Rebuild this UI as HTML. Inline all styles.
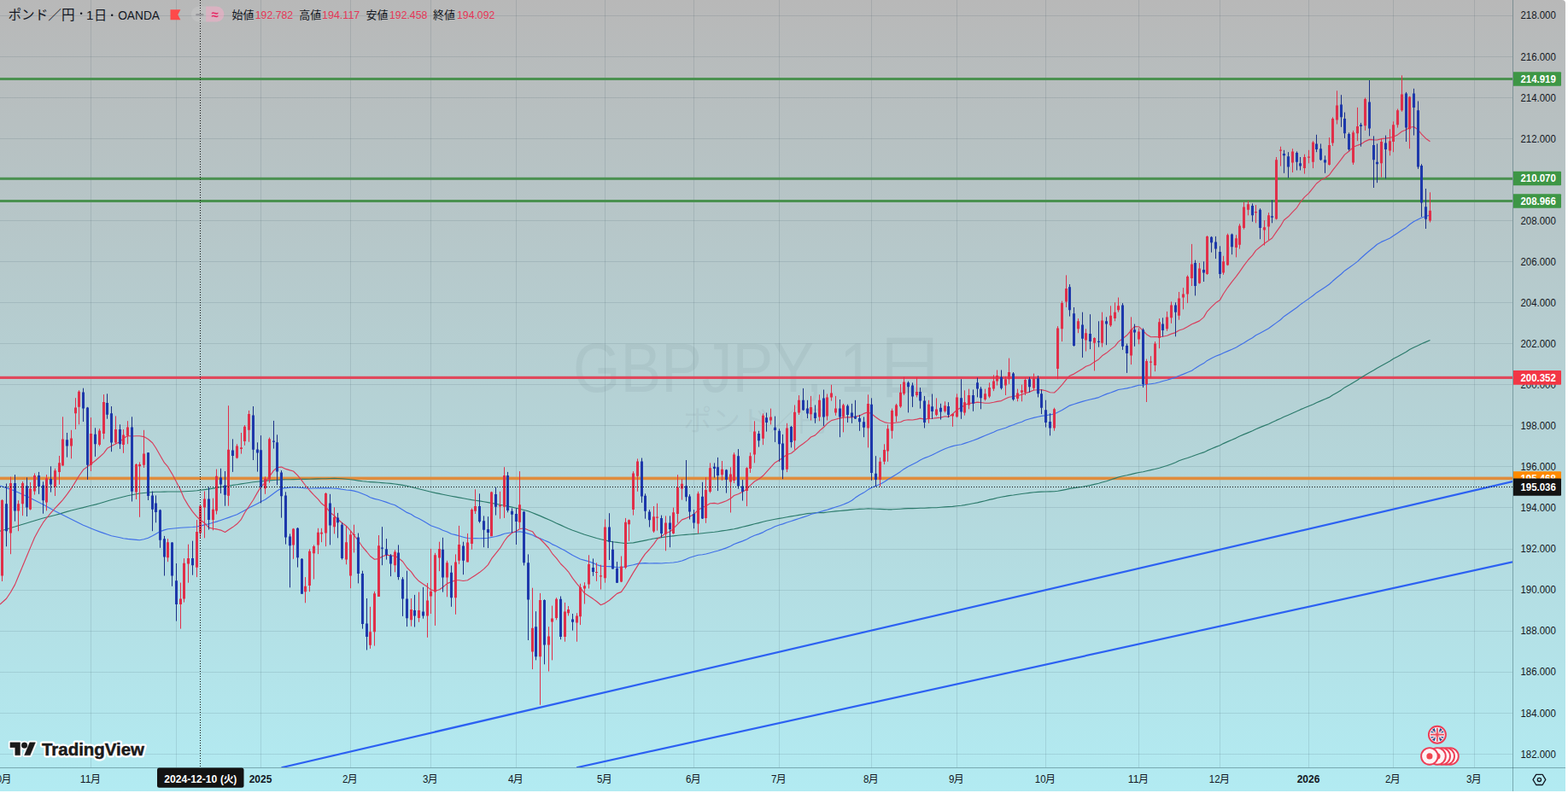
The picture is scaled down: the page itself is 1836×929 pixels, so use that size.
<!DOCTYPE html>
<html><head><meta charset="utf-8"><title>GBPJPY chart</title>
<style>html,body{margin:0;padding:0;background:#fff;overflow:hidden}body{width:1836px;height:929px;position:relative;font-family:"Liberation Sans","Noto Sans CJK JP",sans-serif}</style></head>
<body>
<svg width="1836" height="929" viewBox="0 0 1836 929" style="position:absolute;left:0;top:0;font-family:'Liberation Sans','Noto Sans CJK JP',sans-serif">
<defs><linearGradient id="bg" x1="0" y1="0" x2="0" y2="1"><stop offset="0" stop-color="#b8b8b8"/><stop offset="1" stop-color="#b2ebf2"/></linearGradient><clipPath id="pane"><rect x="0" y="0" width="1771" height="899"/></clipPath><clipPath id="chart"><path d="M0 0H1829q4 0 4 4V927H0Z"/></clipPath></defs>
<rect width="1836" height="929" fill="#fff"/>
<g clip-path="url(#chart)">
<rect x="0" y="0" width="1833" height="927" fill="url(#bg)"/>
<g fill="#6b7c86" fill-opacity="0.105">
<text x="671" y="459" font-size="82" textLength="352" lengthAdjust="spacingAndGlyphs">GBPJPY, 1</text>
<text x="1024" y="459" font-size="82">日</text>
<text x="800" y="505" font-size="33.6">ポンド／円</text>
</g>
<path d="M106 0V899 M206 0V899 M305 0V899 M410 0V899 M504 0V899 M604 0V899 M708 0V899 M812 0V899 M912 0V899 M1020 0V899 M1120 0V899 M1224 0V899 M1333 0V899 M1428 0V899 M1532 0V899 M1631 0V899 M1726 0V899" stroke="rgba(30,60,70,0.12)" stroke-width="1" fill="none" transform="translate(0.5,0)"/>
<path d="M0 883.5H1771 M0 835.5H1771 M0 787.5H1771 M0 739.5H1771 M0 691.5H1771 M0 643.5H1771 M0 594.5H1771 M0 546.5H1771 M0 498.5H1771 M0 450.5H1771 M0 402.5H1771 M0 354.5H1771 M0 306.5H1771 M0 258.5H1771 M0 210.5H1771 M0 162.5H1771 M0 114.5H1771 M0 66.5H1771 M0 18.5H1771" stroke="rgba(30,60,70,0.12)" stroke-width="1" fill="none"/>
<g clip-path="url(#pane)">
<rect x="0" y="91.0" width="1771" height="3.0" fill="#4a9150"/>
<rect x="0" y="207.8" width="1771" height="3.0" fill="#4a9150"/>
<rect x="0" y="234.0" width="1771" height="3.0" fill="#4a9150"/>
<rect x="0" y="440.8" width="1771" height="3.2" fill="#e0485c"/>
<rect x="0" y="558.6" width="1771" height="3.6" fill="#e08c3c"/>
<path d="M329.5 899.25L1771 564.1M675.1 899.25L1771 658.3" stroke="#2c61f2" stroke-width="2.2" fill="none"/>
<path d="M0.0 622.2L2.5 621.5L7.5 620.0L12.5 618.5L17.5 617.0L21.5 615.7L26.5 614.2L31.5 612.7L35.5 611.5L40.5 610.0L45.5 608.5L50.5 607.0L54.5 606.0L59.5 604.8L64.5 603.5L69.5 602.1L73.5 600.9L78.5 599.4L83.5 598.0L88.5 596.8L92.5 595.8L97.5 594.6L102.5 593.3L106.5 592.3L111.5 591.1L116.5 589.7L121.5 588.2L125.5 587.0L130.5 585.5L135.5 584.2L140.5 583.0L144.5 582.0L149.5 580.8L154.5 579.8L159.5 578.8L163.5 578.0L168.5 577.5L173.5 577.0L178.5 576.5L182.5 576.3L187.5 576.2L192.5 576.1L196.5 576.0L201.5 576.0L206.5 576.0L211.5 576.0L215.5 575.8L220.5 575.5L225.5 575.2L230.5 574.8L234.5 574.3L239.5 573.6L244.5 572.9L249.5 572.1L253.5 571.4L258.5 570.5L263.5 569.7L267.5 569.2L272.5 568.4L277.5 567.7L282.5 566.9L286.5 566.3L291.5 565.5L296.5 564.8L301.5 564.3L305.5 563.9L310.5 563.3L315.5 562.9L320.5 562.5L324.5 562.2L329.5 561.9L334.5 561.8L339.5 561.7L343.5 561.6L348.5 561.5L353.5 561.4L357.5 561.4L362.5 561.3L367.5 561.1L372.5 560.9L376.5 560.8L381.5 560.7L386.5 560.5L391.5 560.4L395.5 560.5L400.5 560.8L405.5 561.2L410.5 561.7L414.5 562.3L419.5 563.1L424.5 563.8L429.5 564.3L433.5 564.6L438.5 564.9L443.5 565.3L447.5 565.6L452.5 566.0L457.5 566.4L462.5 567.0L466.5 567.6L471.5 568.4L476.5 569.3L481.5 570.5L485.5 571.5L490.5 572.8L495.5 574.0L500.5 575.2L504.5 576.2L509.5 577.4L514.5 578.4L518.5 579.2L523.5 580.2L528.5 581.2L533.5 582.1L537.5 582.9L542.5 583.8L547.5 584.7L552.5 585.6L556.5 586.2L561.5 586.9L566.5 587.7L571.5 588.6L575.5 589.4L580.5 590.3L585.5 591.3L590.5 592.3L594.5 593.1L599.5 594.1L604.5 595.3L608.5 596.3L613.5 597.5L618.5 598.8L623.5 600.8L627.5 602.4L632.5 604.4L637.5 606.6L642.5 608.8L646.5 610.6L651.5 612.9L656.5 615.1L661.5 617.4L665.5 619.2L670.5 621.2L675.5 623.0L679.5 624.5L684.5 626.3L689.5 627.8L694.5 629.3L698.5 630.5L703.5 631.8L708.5 632.9L713.5 634.1L717.5 634.8L722.5 635.4L727.5 636.0L732.5 636.6L736.5 636.3L741.5 635.9L746.5 634.9L751.5 633.9L755.5 633.1L760.5 632.0L765.5 631.0L769.5 630.4L774.5 629.7L779.5 628.9L784.5 628.3L788.5 627.9L793.5 627.3L798.5 626.8L803.5 626.4L807.5 626.0L812.5 625.6L817.5 625.2L822.5 624.7L826.5 624.3L831.5 623.8L836.5 623.3L840.5 622.7L845.5 621.9L850.5 621.2L855.5 620.4L859.5 619.8L864.5 618.6L869.5 617.3L874.5 616.1L878.5 615.1L883.5 613.8L888.5 612.6L893.5 611.3L897.5 610.2L902.5 609.2L907.5 608.3L912.5 607.4L916.5 606.7L921.5 605.8L926.5 604.9L930.5 604.2L935.5 603.4L940.5 602.5L945.5 601.6L949.5 601.2L954.5 600.7L959.5 600.6L964.5 600.6L968.5 600.0L973.5 599.5L978.5 598.9L983.5 598.5L987.5 598.1L992.5 597.6L997.5 597.1L1001.5 596.8L1006.5 596.4L1011.5 596.2L1016.5 595.8L1020.5 596.0L1025.5 596.2L1030.5 596.4L1035.5 596.6L1039.5 596.8L1044.5 596.8L1049.5 596.5L1054.5 596.2L1058.5 595.9L1063.5 595.6L1068.5 595.6L1073.5 595.5L1077.5 595.2L1082.5 595.2L1087.5 594.9L1091.5 594.8L1096.5 594.7L1101.5 594.2L1106.5 593.9L1110.5 593.6L1115.5 593.4L1120.5 592.8L1125.5 592.2L1129.5 591.6L1134.5 590.7L1139.5 589.8L1144.5 588.9L1148.5 587.9L1153.5 586.7L1158.5 585.4L1163.5 584.4L1167.5 583.3L1172.5 582.2L1177.5 581.4L1181.5 580.6L1186.5 580.0L1191.5 579.2L1196.5 578.5L1200.5 578.0L1205.5 577.4L1210.5 576.7L1215.5 576.4L1219.5 576.1L1224.5 576.0L1229.5 575.9L1234.5 575.8L1238.5 575.3L1243.5 574.4L1248.5 573.4L1252.5 572.4L1257.5 571.6L1262.5 570.9L1267.5 570.3L1271.5 569.5L1276.5 568.6L1281.5 567.4L1286.5 566.2L1290.5 565.0L1295.5 563.7L1300.5 562.0L1305.5 560.4L1309.5 559.0L1314.5 557.8L1319.5 556.8L1324.5 555.6L1328.5 554.6L1333.5 553.5L1338.5 552.7L1342.5 551.8L1347.5 550.6L1352.5 549.5L1357.5 548.2L1361.5 547.0L1366.5 545.5L1371.5 543.7L1376.5 541.8L1380.5 539.8L1385.5 538.0L1390.5 536.5L1395.5 534.8L1399.5 533.2L1404.5 531.5L1409.5 529.9L1413.5 527.9L1418.5 525.8L1423.5 523.6L1428.5 521.7L1432.5 519.6L1437.5 517.4L1442.5 515.2L1447.5 513.1L1451.5 511.0L1456.5 508.9L1461.5 506.9L1466.5 504.8L1470.5 502.7L1475.5 500.6L1480.5 498.6L1485.5 496.7L1489.5 494.7L1494.5 492.4L1499.5 490.3L1503.5 488.3L1508.5 486.2L1513.5 484.0L1518.5 481.8L1522.5 479.9L1527.5 477.8L1532.5 475.8L1537.5 473.8L1541.5 471.7L1546.5 469.6L1551.5 467.5L1556.5 465.4L1560.5 462.8L1565.5 459.9L1570.5 456.9L1574.5 453.9L1579.5 451.2L1584.5 448.2L1589.5 445.3L1593.5 442.4L1598.5 439.4L1603.5 436.5L1608.5 433.8L1612.5 431.2L1617.5 428.4L1622.5 425.7L1627.5 423.0L1631.5 420.3L1636.5 417.7L1641.5 414.9L1646.5 412.3L1650.5 409.5L1655.5 407.0L1660.5 404.8L1664.5 402.7L1669.5 400.6L1674.5 398.5" stroke="#2b7a6b" stroke-width="1.15" fill="none" stroke-linejoin="round"/>
<path d="M0.0 569.0L2.5 569.9L7.5 571.6L12.5 573.3L17.5 575.2L21.5 577.0L26.5 579.3L31.5 581.6L35.5 583.5L40.5 586.0L45.5 588.5L50.5 591.1L54.5 593.3L59.5 596.0L64.5 598.8L69.5 601.3L73.5 603.3L78.5 605.8L83.5 608.2L88.5 610.8L92.5 612.8L97.5 615.2L102.5 617.3L106.5 619.0L111.5 621.0L116.5 622.9L121.5 624.6L125.5 626.0L130.5 627.8L135.5 628.8L140.5 629.8L144.5 630.7L149.5 631.4L154.5 631.9L159.5 632.4L163.5 632.8L168.5 631.8L173.5 630.3L178.5 627.8L182.5 625.5L187.5 622.6L192.5 620.9L196.5 619.7L201.5 619.2L206.5 618.7L211.5 618.2L215.5 618.0L220.5 617.7L225.5 617.5L230.5 617.0L234.5 616.1L239.5 614.9L244.5 613.8L249.5 612.3L253.5 611.1L258.5 609.5L263.5 607.8L267.5 606.4L272.5 604.5L277.5 602.7L282.5 600.1L286.5 597.9L291.5 595.1L296.5 592.5L301.5 589.9L305.5 587.8L310.5 585.2L315.5 581.7L320.5 578.0L324.5 575.0L329.5 572.1L334.5 571.6L339.5 571.1L343.5 570.7L348.5 571.0L353.5 571.5L357.5 571.9L362.5 572.2L367.5 572.0L372.5 571.9L376.5 571.8L381.5 571.9L386.5 571.8L391.5 572.2L395.5 572.4L400.5 573.2L405.5 574.0L410.5 574.4L414.5 575.1L419.5 576.5L424.5 578.5L429.5 580.5L433.5 582.8L438.5 584.4L443.5 585.5L447.5 586.7L452.5 588.4L457.5 590.2L462.5 591.8L466.5 594.3L471.5 597.3L476.5 600.4L481.5 602.5L485.5 605.2L490.5 607.6L495.5 610.3L500.5 613.2L504.5 615.8L509.5 617.5L514.5 619.2L518.5 621.2L523.5 623.0L528.5 625.5L533.5 626.6L537.5 627.8L542.5 629.2L547.5 630.5L552.5 630.7L556.5 630.6L561.5 630.8L566.5 630.6L571.5 630.3L575.5 629.5L580.5 628.5L585.5 627.1L590.5 625.3L594.5 624.5L599.5 623.8L604.5 623.2L608.5 622.8L613.5 623.6L618.5 625.1L623.5 626.7L627.5 628.9L632.5 630.7L637.5 633.0L642.5 635.1L646.5 637.6L651.5 639.7L656.5 642.5L661.5 644.9L665.5 647.5L670.5 650.6L675.5 653.0L679.5 655.0L684.5 656.4L689.5 657.7L694.5 659.6L698.5 661.5L703.5 663.1L708.5 663.5L713.5 663.6L717.5 663.9L722.5 664.7L727.5 664.8L732.5 663.8L736.5 662.8L741.5 661.7L746.5 660.4L751.5 659.9L755.5 659.6L760.5 660.0L765.5 659.9L769.5 659.9L774.5 660.0L779.5 659.5L784.5 659.3L788.5 659.0L793.5 658.3L798.5 657.0L803.5 655.1L807.5 653.3L812.5 651.7L817.5 650.2L822.5 649.8L826.5 649.0L831.5 647.7L836.5 646.3L840.5 645.2L845.5 643.6L850.5 641.9L855.5 639.8L859.5 637.5L864.5 635.6L869.5 633.9L874.5 631.7L878.5 629.6L883.5 627.2L888.5 625.6L893.5 623.6L897.5 621.3L902.5 619.2L907.5 616.8L912.5 615.0L916.5 613.9L921.5 612.0L926.5 610.5L930.5 609.1L935.5 607.5L940.5 605.9L945.5 604.2L949.5 602.4L954.5 601.3L959.5 599.7L964.5 598.4L968.5 597.3L973.5 595.6L978.5 594.0L983.5 592.5L987.5 591.0L992.5 588.9L997.5 586.2L1001.5 583.1L1006.5 579.7L1011.5 577.1L1016.5 573.6L1020.5 571.2L1025.5 569.2L1030.5 567.2L1035.5 564.4L1039.5 561.8L1044.5 558.8L1049.5 555.7L1054.5 552.4L1058.5 549.4L1063.5 546.5L1068.5 544.0L1073.5 541.4L1077.5 538.9L1082.5 536.6L1087.5 534.8L1091.5 532.9L1096.5 530.6L1101.5 528.1L1106.5 525.7L1110.5 524.2L1115.5 522.6L1120.5 521.5L1125.5 520.8L1129.5 519.4L1134.5 517.7L1139.5 516.0L1144.5 514.1L1148.5 512.4L1153.5 510.3L1158.5 508.3L1163.5 506.2L1167.5 504.2L1172.5 502.7L1177.5 501.2L1181.5 499.4L1186.5 497.7L1191.5 495.8L1196.5 494.3L1200.5 492.3L1205.5 490.8L1210.5 489.4L1215.5 488.3L1219.5 487.4L1224.5 486.7L1229.5 485.9L1234.5 485.0L1238.5 483.1L1243.5 480.4L1248.5 477.4L1252.5 475.1L1257.5 473.5L1262.5 471.9L1267.5 470.4L1271.5 469.2L1276.5 468.0L1281.5 466.9L1286.5 465.6L1290.5 463.8L1295.5 461.6L1300.5 460.0L1305.5 458.1L1309.5 456.5L1314.5 455.7L1319.5 454.9L1324.5 453.7L1328.5 452.6L1333.5 451.3L1338.5 451.1L1342.5 450.3L1347.5 449.7L1352.5 449.0L1357.5 447.8L1361.5 446.5L1366.5 445.2L1371.5 443.6L1376.5 442.1L1380.5 440.3L1385.5 438.4L1390.5 436.2L1395.5 434.2L1399.5 431.4L1404.5 428.3L1409.5 425.6L1413.5 422.4L1418.5 419.7L1423.5 417.3L1428.5 415.4L1432.5 413.5L1437.5 411.4L1442.5 409.3L1447.5 407.0L1451.5 404.6L1456.5 401.7L1461.5 398.5L1466.5 395.8L1470.5 392.8L1475.5 390.2L1480.5 387.5L1485.5 384.7L1489.5 381.8L1494.5 378.1L1499.5 374.5L1503.5 370.7L1508.5 367.3L1513.5 363.7L1518.5 360.2L1522.5 356.9L1527.5 353.4L1532.5 349.9L1537.5 346.3L1541.5 342.9L1546.5 339.7L1551.5 336.4L1556.5 333.0L1560.5 329.3L1565.5 325.0L1570.5 321.0L1574.5 317.2L1579.5 313.8L1584.5 310.1L1589.5 306.4L1593.5 302.5L1598.5 298.0L1603.5 293.7L1608.5 289.7L1612.5 286.2L1617.5 283.4L1622.5 281.2L1627.5 279.0L1631.5 276.3L1636.5 272.9L1641.5 269.5L1646.5 266.4L1650.5 263.0L1655.5 259.6L1660.5 257.0L1664.5 255.0L1669.5 253.5L1674.5 251.9" stroke="#3f6fe8" stroke-width="1.15" fill="none" stroke-linejoin="round"/>
<path d="M0.0 708.0L2.5 705.8L7.5 701.3L12.5 693.8L17.5 684.9L21.5 675.3L26.5 663.2L31.5 651.2L35.5 641.6L40.5 629.7L45.5 620.5L50.5 612.2L54.5 607.0L59.5 600.9L64.5 595.4L69.5 590.0L73.5 585.6L78.5 579.2L83.5 572.2L88.5 564.1L92.5 557.5L97.5 550.3L102.5 546.6L106.5 543.7L111.5 539.8L116.5 535.5L121.5 530.8L125.5 525.3L130.5 522.6L135.5 519.9L140.5 517.4L144.5 513.6L149.5 510.6L154.5 511.0L159.5 510.7L163.5 510.7L168.5 511.6L173.5 514.5L178.5 518.7L182.5 524.8L187.5 533.5L192.5 542.2L196.5 546.7L201.5 555.1L206.5 564.5L211.5 574.3L215.5 583.7L220.5 592.1L225.5 599.3L230.5 605.3L234.5 609.0L239.5 612.7L244.5 618.1L249.5 619.2L253.5 619.9L258.5 621.1L263.5 623.5L267.5 620.8L272.5 617.6L277.5 613.8L282.5 608.3L286.5 600.7L291.5 593.2L296.5 585.8L301.5 576.9L305.5 570.4L310.5 565.4L315.5 558.4L320.5 551.2L324.5 547.7L329.5 547.1L334.5 549.4L339.5 550.9L343.5 552.0L348.5 556.8L353.5 563.2L357.5 568.5L362.5 574.5L367.5 579.8L372.5 584.8L376.5 589.8L381.5 593.7L386.5 600.3L391.5 604.2L395.5 608.3L400.5 612.5L405.5 616.2L410.5 621.8L414.5 627.2L419.5 633.2L424.5 640.7L429.5 646.5L433.5 651.5L438.5 655.3L443.5 654.6L447.5 652.0L452.5 650.1L457.5 650.9L462.5 651.2L466.5 653.8L471.5 657.7L476.5 665.0L481.5 669.9L485.5 675.7L490.5 680.8L495.5 684.2L500.5 687.6L504.5 690.9L509.5 692.2L514.5 690.7L518.5 688.0L523.5 683.6L528.5 681.6L533.5 679.8L537.5 679.7L542.5 680.5L547.5 679.7L552.5 676.6L556.5 673.9L561.5 670.6L566.5 666.6L571.5 661.6L575.5 654.7L580.5 648.3L585.5 642.2L590.5 634.0L594.5 628.7L599.5 624.2L604.5 622.2L608.5 619.7L613.5 618.8L618.5 621.0L623.5 622.7L627.5 628.3L632.5 631.5L637.5 636.5L642.5 642.0L646.5 648.3L651.5 653.8L656.5 660.5L661.5 665.3L665.5 669.8L670.5 677.4L675.5 683.8L679.5 688.6L684.5 695.1L689.5 698.2L694.5 701.6L698.5 704.5L703.5 708.7L708.5 706.6L713.5 703.2L717.5 699.7L722.5 695.4L727.5 693.4L732.5 686.2L736.5 679.4L741.5 670.9L746.5 662.9L751.5 654.6L755.5 648.8L760.5 643.5L765.5 637.3L769.5 631.5L774.5 628.4L779.5 624.7L784.5 622.7L788.5 619.2L793.5 614.2L798.5 608.9L803.5 607.1L807.5 605.3L812.5 602.6L817.5 597.4L822.5 594.6L826.5 592.7L831.5 589.7L836.5 589.4L840.5 590.2L845.5 588.6L850.5 586.8L855.5 584.1L859.5 580.5L864.5 578.7L869.5 576.2L874.5 573.0L878.5 568.7L883.5 564.0L888.5 561.3L893.5 557.3L897.5 552.9L902.5 547.3L907.5 541.9L912.5 539.0L916.5 536.2L921.5 532.5L926.5 531.0L930.5 527.7L935.5 523.3L940.5 519.8L945.5 515.9L949.5 512.0L954.5 509.9L959.5 504.8L964.5 500.5L968.5 496.3L973.5 492.6L978.5 491.3L983.5 489.9L987.5 489.3L992.5 488.8L997.5 488.8L1001.5 488.2L1006.5 486.9L1011.5 484.4L1016.5 482.9L1020.5 484.7L1025.5 488.7L1030.5 492.3L1035.5 494.6L1039.5 495.5L1044.5 495.7L1049.5 495.0L1054.5 494.5L1058.5 492.5L1063.5 491.8L1068.5 492.0L1073.5 491.1L1077.5 490.1L1082.5 491.1L1087.5 490.5L1091.5 490.2L1096.5 489.6L1101.5 489.1L1106.5 487.8L1110.5 488.4L1115.5 485.0L1120.5 480.2L1125.5 477.3L1129.5 474.5L1134.5 472.5L1139.5 472.1L1144.5 471.1L1148.5 471.5L1153.5 472.2L1158.5 472.2L1163.5 471.3L1167.5 470.4L1172.5 469.6L1177.5 467.1L1181.5 465.2L1186.5 464.5L1191.5 463.6L1196.5 462.3L1200.5 460.8L1205.5 459.1L1210.5 457.0L1215.5 456.8L1219.5 456.6L1224.5 457.8L1229.5 459.7L1234.5 460.0L1238.5 456.4L1243.5 450.9L1248.5 444.7L1252.5 440.2L1257.5 438.1L1262.5 434.9L1267.5 432.0L1271.5 429.3L1276.5 427.5L1281.5 423.9L1286.5 420.9L1290.5 416.8L1295.5 413.6L1300.5 409.4L1305.5 405.6L1309.5 400.4L1314.5 396.8L1319.5 392.8L1324.5 387.0L1328.5 382.5L1333.5 382.7L1338.5 387.5L1342.5 391.7L1347.5 394.8L1352.5 394.6L1357.5 394.7L1361.5 394.2L1366.5 393.2L1371.5 391.1L1376.5 389.6L1380.5 387.0L1385.5 385.5L1390.5 382.7L1395.5 379.7L1399.5 378.1L1404.5 375.9L1409.5 371.6L1413.5 364.8L1418.5 359.7L1423.5 354.8L1428.5 351.4L1432.5 344.2L1437.5 336.8L1442.5 330.1L1447.5 323.9L1451.5 318.3L1456.5 311.1L1461.5 304.5L1466.5 299.2L1470.5 293.4L1475.5 289.2L1480.5 285.3L1485.5 281.7L1489.5 279.0L1494.5 271.6L1499.5 264.7L1503.5 257.8L1508.5 253.8L1513.5 248.4L1518.5 243.3L1522.5 237.0L1527.5 230.9L1532.5 226.3L1537.5 220.2L1541.5 215.0L1546.5 211.1L1551.5 208.5L1556.5 205.0L1560.5 199.4L1565.5 193.1L1570.5 186.6L1574.5 181.1L1579.5 177.3L1584.5 172.3L1589.5 170.3L1593.5 168.9L1598.5 165.6L1603.5 163.4L1608.5 163.9L1612.5 164.0L1617.5 162.6L1622.5 162.1L1627.5 161.2L1631.5 160.2L1636.5 157.9L1641.5 154.0L1646.5 152.0L1650.5 149.2L1655.5 148.5L1660.5 152.1L1664.5 157.1L1669.5 162.2L1674.5 165.7" stroke="#d93c5a" stroke-width="1.15" fill="none" stroke-linejoin="round"/>
<path d="M2.5 585.0V681.0M12.5 558.6V649.2M21.5 586.2V622.2M26.5 564.0V604.2M35.5 565.0V597.6M40.5 554.5V579.6M54.5 556.1V598.4M64.5 548.8V581.0M69.5 534.0V567.6M73.5 488.3V545.5M83.5 503.8V537.3M88.5 466.2V503.0M92.5 457.2V497.3M106.5 489.1V552.0M116.5 502.2V522.6M121.5 462.1V514.4M135.5 487.4V520.2M144.5 503.0V530.8M149.5 493.2V520.2M159.5 543.0V585.0M163.5 541.4V605.8M168.5 503.8V548.0M196.5 631.2V658.2M211.5 682.6V736.6M215.5 654.1V705.6M220.5 637.7V682.7M230.5 609.1V676.1M234.5 591.9V630.3M239.5 575.5V630.3M249.5 583.7V621.3M253.5 549.6V602.5M267.5 475.2V592.7M277.5 520.2V537.3M282.5 507.0V531.6M286.5 498.0V521.8M291.5 480.9V517.7M310.5 558.3V578.8M315.5 512.5V565.7M343.5 618.8V654.8M357.5 676.1V706.3M362.5 643.3V693.2M367.5 638.4V678.5M372.5 618.8V649.1M376.5 618.8V635.2M381.5 577.1V640.1M391.5 594.3V625.4M405.5 616.4V661.3M410.5 622.1V689.2M414.5 614.7V647.4M433.5 710.8V759.9M438.5 692.8V756.6M443.5 627.0V699.0M462.5 644.2V670.3M481.5 701.0V733.7M490.5 693.6V728.8M500.5 683.0V746.8M504.5 642.9V719.0M509.5 647.8V732.9M514.5 634.7V669.1M523.5 656.8V699.3M533.5 649.4V719.8M537.5 615.9V660.9M547.5 624.9V658.4M552.5 595.4V643.7M556.5 573.3V602.0M575.5 575.8V628.2M585.5 575.8V607.7M590.5 547.2V606.9M608.5 552.1V619.2M623.5 688.7V784.1M632.5 694.9V825.8M642.5 734.2V786.5M646.5 709.6V773.4M651.5 700.2V726.3M661.5 705.9V751.7M665.5 710.0V721.4M675.5 718.2V751.7M679.5 683.8V732.1M684.5 682.2V707.5M689.5 650.3V689.5M698.5 659.3V680.9M703.5 661.7V690.5M708.5 608.4V682.7M727.5 651.5V682.1M732.5 606.9V666.6M736.5 608.5V633.9M741.5 552.1V603.6M746.5 537.4V575.8M765.5 593.0V624.1M769.5 589.7V621.6M779.5 604.4V645.3M788.5 594.6V625.7M793.5 556.2V612.6M798.5 561.1V585.6M817.5 575.8V624.9M826.5 559.2V612.8M831.5 542.4V577.6M845.5 540.0V562.9M855.5 547.3V600.5M859.5 530.2V566.1M874.5 547.3V593.1M878.5 530.2V553.9M883.5 493.3V542.4M893.5 484.4V521.2M902.5 478.6V497.4M921.5 495.8V553.1M930.5 474.5V526.9M935.5 463.1V486.0M949.5 463.9V492.5M959.5 462.3V493.3M968.5 461.5V492.5M973.5 450.8V469.6M978.5 463.9V486.8M987.5 472.9V506.4M1016.5 462.3V524.4M1030.5 535.9V570.2M1035.5 520.3V544.1M1039.5 497.4V540.8M1044.5 478.6V513.8M1049.5 472.9V494.2M1054.5 450.0V477.8M1058.5 441.7V463.0M1073.5 442.5V465.4M1087.5 468.8V495.8M1096.5 466.4V487.6M1106.5 470.3V483.4M1115.5 484.2V499.8M1120.5 461.3V489.2M1129.5 457.3V486.7M1134.5 455.6V479.3M1153.5 455.6V469.5M1158.5 448.3V466.3M1163.5 439.3V458.1M1167.5 433.5V451.5M1177.5 440.9V463.0M1181.5 419.6V449.9M1191.5 455.6V470.3M1196.5 450.7V470.3M1200.5 442.5V463.0M1210.5 437.6V457.3M1234.5 477.7V504.7M1238.5 382.1V444.2M1243.5 352.6V400.1M1248.5 322.4V360.0M1262.5 373.1V390.2M1271.5 385.3V411.5M1281.5 395.2V434.4M1290.5 365.7V406.6M1300.5 358.3V382.9M1305.5 354.3V376.3M1309.5 348.5V365.7M1324.5 371.4V427.1M1333.5 384.5V403.3M1342.5 420.5V471.0M1347.5 417.2V442.6M1352.5 400.1V435.2M1357.5 373.1V408.2M1366.5 364.9V387.8M1371.5 353.4V378.8M1380.5 342.0V374.7M1385.5 337.1V362.4M1390.5 322.4V355.1M1395.5 285.9V335.0M1404.5 308.0V332.5M1413.5 276.1V321.9M1432.5 299.8V321.9M1437.5 273.6V311.2M1447.5 275.2V301.4M1451.5 262.2V291.6M1456.5 236.8V268.7M1461.5 235.2V252.3M1470.5 240.1V261.3M1480.5 258.1V287.5M1485.5 249.1V281.0M1494.5 184.0V257.3M1499.5 171.7V194.6M1513.5 174.2V202.0M1527.5 180.7V203.6M1532.5 175.8V191.3M1537.5 165.2V197.1M1556.5 161.1V193.8M1560.5 137.3V170.9M1565.5 106.3V145.5M1584.5 152.9V193.0M1589.5 125.9V165.2M1598.5 114.4V152.9M1617.5 161.9V207.7M1627.5 151.3V182.3M1631.5 142.3V178.2M1636.5 127.5V149.6M1641.5 88.3V130.8M1650.5 112.8V174.2M1674.5 225.3V260.5" stroke="#e02f49" stroke-width="1" fill="none"/>
<path d="M7.5 566.5V640.2M17.5 556.1V610.7M31.5 559.4V605.0M45.5 552.9V578.8M50.5 564.3V601.7M59.5 546.3V576.6M78.5 507.0V535.7M97.5 454.7V494.0M102.5 476.8V561.9M111.5 501.3V534.9M125.5 461.3V490.7M130.5 476.0V529.2M140.5 497.3V525.9M154.5 488.3V587.5M173.5 530.0V586.0M178.5 575.5V622.2M182.5 580.4V612.3M187.5 596.8V641.8M192.5 627.9V674.5M201.5 635.2V686.8M206.5 660.0V727.6M225.5 633.6V673.7M244.5 570.6V620.5M258.5 548.8V578.1M263.5 552.0V592.7M272.5 514.4V552.9M296.5 476.0V539.0M301.5 518.3V552.6M305.5 510.1V589.4M320.5 492.9V525.6M324.5 509.3V568.2M329.5 551.0V606.6M334.5 576.3V637.6M339.5 625.4V688.3M348.5 618.0V664.6M353.5 654.0V695.7M386.5 578.8V638.4M395.5 600.9V630.3M400.5 612.3V655.6M419.5 624.5V683.4M424.5 668.7V736.6M429.5 701.0V761.5M447.5 617.2V662.2M452.5 631.1V655.6M457.5 649.1V675.2M466.5 638.4V679.3M471.5 676.1V721.9M476.5 668.7V734.1M485.5 696.9V734.5M495.5 687.9V724.7M518.5 629.8V693.6M528.5 662.5V710.8M542.5 634.7V673.2M561.5 578.3V612.6M566.5 604.4V641.2M571.5 605.2V642.1M580.5 570.9V603.6M594.5 552.9V600.3M599.5 595.4V624.1M604.5 595.4V638.0M613.5 598.7V662.5M618.5 649.4V750.0M627.5 716.2V773.4M637.5 702.3V778.3M656.5 698.5V749.2M670.5 719.0V738.6M694.5 654.4V674.8M713.5 601.2V656.0M717.5 633.9V666.6M722.5 658.1V683.0M751.5 536.5V588.9M755.5 578.3V607.7M760.5 597.1V617.5M774.5 603.6V629.8M784.5 604.4V641.2M803.5 539.0V587.3M807.5 579.1V608.5M812.5 597.1V619.2M822.5 564.8V608.0M836.5 542.4V559.6M840.5 535.9V575.1M850.5 549.8V577.6M864.5 526.1V572.7M869.5 562.1V586.6M888.5 504.8V523.6M897.5 483.5V505.6M907.5 487.6V517.9M912.5 502.3V540.8M916.5 508.9V561.2M926.5 499.1V524.4M940.5 454.9V481.1M945.5 468.8V490.1M954.5 474.5V495.8M964.5 456.5V499.1M983.5 468.0V512.2M992.5 473.7V495.0M997.5 472.9V495.8M1001.5 468.8V491.0M1006.5 486.0V504.8M1011.5 488.4V512.2M1020.5 466.4V562.9M1025.5 534.2V570.2M1063.5 446.6V483.4M1068.5 448.3V476.9M1077.5 454.1V478.6M1082.5 463.9V501.5M1091.5 461.5V490.9M1101.5 472.8V491.6M1110.5 471.2V489.2M1125.5 444.2V490.8M1139.5 456.4V481.8M1144.5 442.5V465.4M1148.5 453.2V479.3M1172.5 433.5V456.4M1186.5 436.0V469.5M1205.5 441.7V459.7M1215.5 440.1V465.4M1219.5 456.4V485.1M1224.5 468.7V500.6M1229.5 484.2V510.4M1252.5 333.0V370.6M1257.5 360.0V405.8M1267.5 365.7V418.9M1276.5 368.2V409.1M1286.5 376.3V406.6M1295.5 371.4V404.2M1314.5 355.1V409.9M1319.5 402.5V436.9M1328.5 379.6V405.8M1338.5 384.5V454.0M1361.5 372.3V394.3M1376.5 354.3V394.3M1399.5 304.7V346.4M1409.5 306.3V330.0M1418.5 276.9V295.7M1423.5 276.9V303.1M1428.5 288.3V326.0M1442.5 273.6V298.2M1466.5 238.4V259.7M1475.5 244.2V280.2M1489.5 234.4V261.3M1503.5 175.8V202.8M1508.5 178.2V208.5M1518.5 177.4V199.5M1522.5 184.0V199.5M1541.5 157.8V178.2M1546.5 168.4V188.1M1551.5 182.3V202.8M1570.5 111.2V148.8M1574.5 131.6V161.9M1579.5 155.3V176.6M1593.5 143.9V171.7M1603.5 94.0V159.4M1608.5 159.4V220.0M1612.5 168.4V214.2M1622.5 158.6V209.3M1646.5 107.9V166.0M1655.5 103.8V158.6M1660.5 118.5V197.9M1664.5 192.2V254.1M1669.5 221.0V268.0" stroke="#1a2f86" stroke-width="1" fill="none"/>
<path d="M1 586.0h3v88.5h-3zM11 566.0h3v58.6h-3zM20 590.3h3v8.1h-3zM25 566.0h3v24.3h-3zM34 572.5h3v24.3h-3zM39 557.0h3v18.5h-3zM53 560.2h3v28.4h-3zM63 551.2h3v18.8h-3zM68 542.2h3v10.7h-3zM72 514.4h3v31.1h-3zM82 513.6h3v9.0h-3zM87 477.6h3v6.6h-3zM91 458.8h3v18.0h-3zM105 507.9h3v36.8h-3zM115 504.6h3v16.4h-3zM120 471.1h3v36.8h-3zM134 503.0h3v15.5h-3zM143 509.5h3v11.5h-3zM148 500.5h3v9.8h-3zM158 543.9h3v32.6h-3zM162 543.9h3v2.4h-3zM167 531.6h3v13.1h-3zM195 635.2h3v18.0h-3zM210 701.4h3v6.6h-3zM214 659.8h3v41.7h-3zM219 654.1h3v6.5h-3zM229 623.0h3v41.7h-3zM233 592.7h3v31.9h-3zM238 584.5h3v9.9h-3zM248 596.8h3v12.3h-3zM252 557.8h3v40.6h-3zM266 526.7h3v54.0h-3zM276 522.6h3v13.9h-3zM281 524.2h3v1.7h-3zM285 499.7h3v17.2h-3zM290 485.0h3v18.8h-3zM309 560.8h3v11.4h-3zM314 514.2h3v47.4h-3zM342 619.6h3v18.8h-3zM356 686.7h3v6.5h-3zM361 645.8h3v40.1h-3zM366 640.1h3v8.2h-3zM371 623.7h3v14.7h-3zM375 623.7h3v1.7h-3zM380 578.0h3v46.5h-3zM390 605.8h3v11.4h-3zM404 635.2h3v20.4h-3zM409 626.2h3v48.2h-3zM413 625.9h3v1.2h-3zM432 740.2h3v15.6h-3zM437 695.2h3v45.0h-3zM442 639.3h3v59.7h-3zM461 646.6h3v15.6h-3zM480 714.1h3v12.2h-3zM489 714.9h3v9.0h-3zM499 703.4h3v18.0h-3zM503 692.8h3v5.7h-3zM508 650.3h3v43.3h-3zM513 642.9h3v10.6h-3zM522 659.3h3v17.1h-3zM532 658.4h3v41.8h-3zM536 638.0h3v18.8h-3zM546 635.5h3v22.9h-3zM551 597.1h3v40.0h-3zM555 593.0h3v5.7h-3zM574 576.6h3v51.6h-3zM584 592.0h3v1.2h-3zM589 557.0h3v36.8h-3zM607 591.3h3v20.5h-3zM622 735.8h3v27.8h-3zM631 703.1h3v66.2h-3zM641 745.6h3v9.8h-3zM645 724.4h3v4.0h-3zM650 701.8h3v22.1h-3zM660 716.5h3v29.5h-3zM664 714.1h3v4.1h-3zM674 721.4h3v8.2h-3zM678 687.9h3v34.3h-3zM683 686.3h3v3.2h-3zM688 660.9h3v23.7h-3zM697 669.9h3v1.2h-3zM702 674.3h3v1.2h-3zM707 617.4h3v59.9h-3zM726 663.5h3v18.0h-3zM731 611.8h3v53.2h-3zM735 609.3h3v4.9h-3zM740 554.5h3v42.6h-3zM745 540.6h3v17.2h-3zM764 605.2h3v17.2h-3zM768 605.6h3v1.2h-3zM778 612.6h3v13.1h-3zM787 600.3h3v24.6h-3zM792 570.9h3v31.1h-3zM797 566.8h3v5.7h-3zM816 578.3h3v35.1h-3zM825 574.0h3v33.1h-3zM830 548.2h3v27.8h-3zM844 549.8h3v6.5h-3zM854 555.5h3v9.0h-3zM858 532.6h3v30.3h-3zM873 548.2h3v26.9h-3zM877 534.2h3v14.8h-3zM882 505.6h3v27.0h-3zM892 486.8h3v27.0h-3zM901 488.4h3v4.1h-3zM920 501.5h3v48.3h-3zM929 482.7h3v33.6h-3zM934 468.8h3v14.7h-3zM948 477.0h3v8.2h-3zM958 468.8h3v19.6h-3zM967 465.5h3v22.1h-3zM972 460.6h3v4.9h-3zM977 478.6h3v4.9h-3zM986 474.5h3v13.9h-3zM1015 472.9h3v28.6h-3zM1029 540.8h3v21.3h-3zM1034 526.9h3v13.9h-3zM1038 502.3h3v26.2h-3zM1043 481.1h3v23.7h-3zM1048 474.5h3v13.1h-3zM1053 459.8h3v16.4h-3zM1057 447.4h3v13.9h-3zM1072 458.9h3v4.1h-3zM1086 473.7h3v17.2h-3zM1095 479.4h3v6.6h-3zM1105 475.2h3v6.6h-3zM1114 485.1h3v2.4h-3zM1119 465.4h3v22.9h-3zM1128 471.2h3v12.2h-3zM1133 463.0h3v11.4h-3zM1152 461.3h3v6.6h-3zM1157 454.0h3v10.6h-3zM1162 446.6h3v9.0h-3zM1166 440.1h3v6.5h-3zM1176 444.2h3v7.3h-3zM1180 436.0h3v8.2h-3zM1190 460.5h3v6.6h-3zM1195 457.3h3v2.4h-3zM1199 445.0h3v14.7h-3zM1209 442.5h3v12.3h-3zM1233 479.3h3v22.1h-3zM1237 384.5h3v47.5h-3zM1242 355.1h3v30.2h-3zM1247 337.9h3v15.5h-3zM1261 376.3h3v9.0h-3zM1270 390.2h3v8.2h-3zM1280 396.0h3v5.7h-3zM1289 375.5h3v26.2h-3zM1299 369.8h3v11.5h-3zM1304 365.7h3v7.4h-3zM1308 358.3h3v5.0h-3zM1323 386.2h3v30.2h-3zM1332 388.6h3v9.0h-3zM1341 423.0h3v27.0h-3zM1346 423.6h3v1.2h-3zM1351 402.5h3v25.4h-3zM1356 377.2h3v18.8h-3zM1365 371.4h3v13.9h-3zM1370 357.5h3v14.8h-3zM1379 349.4h3v20.4h-3zM1384 344.4h3v4.1h-3zM1389 324.0h3v20.4h-3zM1394 309.6h3v16.4h-3zM1403 314.5h3v17.2h-3zM1412 276.9h3v44.1h-3zM1431 306.3h3v13.1h-3zM1436 275.2h3v35.2h-3zM1446 279.3h3v10.7h-3zM1450 264.6h3v22.1h-3zM1455 242.5h3v24.6h-3zM1460 239.3h3v6.5h-3zM1469 248.1h3v1.2h-3zM1479 266.3h3v3.2h-3zM1484 252.3h3v13.1h-3zM1493 187.2h3v69.2h-3zM1498 175.6h3v1.2h-3zM1512 177.4h3v13.1h-3zM1526 184.0h3v13.1h-3zM1531 183.6h3v1.2h-3zM1536 166.8h3v22.9h-3zM1555 170.1h3v22.9h-3zM1559 139.0h3v28.6h-3zM1564 123.4h3v17.2h-3zM1583 155.3h3v35.2h-3zM1588 148.0h3v8.2h-3zM1597 116.1h3v31.1h-3zM1616 166.0h3v25.3h-3zM1626 165.2h3v11.4h-3zM1630 146.3h3v19.7h-3zM1635 129.2h3v17.1h-3zM1640 110.4h3v18.8h-3zM1649 113.6h3v37.7h-3zM1673 246.7h3v11.8h-3z" fill="#e02f49"/>
<path d="M6 590.3h3v31.9h-3zM16 566.0h3v32.4h-3zM30 569.2h3v25.2h-3zM44 557.0h3v13.0h-3zM49 568.4h3v17.8h-3zM58 561.0h3v6.6h-3zM77 515.2h3v7.4h-3zM96 459.6h3v18.8h-3zM101 477.6h3v67.1h-3zM110 508.7h3v11.5h-3zM124 471.9h3v13.9h-3zM129 484.2h3v34.3h-3zM139 503.0h3v17.2h-3zM153 500.5h3v75.2h-3zM172 530.3h3v50.7h-3zM177 580.4h3v16.4h-3zM181 589.4h3v10.6h-3zM186 597.6h3v35.2h-3zM191 631.2h3v21.2h-3zM200 635.6h3v38.9h-3zM205 680.2h3v27.8h-3zM224 654.1h3v8.1h-3zM243 584.5h3v24.6h-3zM257 559.4h3v8.1h-3zM262 568.4h3v11.4h-3zM271 527.5h3v6.6h-3zM295 486.6h3v40.1h-3zM300 526.4h3v4.1h-3zM304 527.3h3v43.3h-3zM319 516.6h3v1.2h-3zM323 518.3h3v34.3h-3zM328 553.4h3v27.8h-3zM333 580.4h3v49.0h-3zM338 628.6h3v10.7h-3zM347 618.8h3v34.4h-3zM352 654.8h3v40.9h-3zM385 589.4h3v26.2h-3zM394 606.6h3v5.7h-3zM399 614.8h3v39.2h-3zM418 629.4h3v42.6h-3zM423 672.0h3v58.9h-3zM428 730.4h3v15.6h-3zM446 641.5h3v1.2h-3zM451 643.3h3v6.6h-3zM456 650.7h3v9.8h-3zM465 647.4h3v28.7h-3zM470 678.5h3v22.9h-3zM475 701.4h3v22.9h-3zM484 714.9h3v6.5h-3zM494 716.5h3v4.9h-3zM517 643.7h3v32.7h-3zM527 670.7h3v29.5h-3zM541 639.6h3v17.2h-3zM560 593.0h3v18.0h-3zM565 610.2h3v10.6h-3zM570 620.0h3v4.1h-3zM579 579.1h3v14.7h-3zM593 557.0h3v40.9h-3zM598 598.7h3v4.1h-3zM603 602.0h3v9.0h-3zM612 599.5h3v59.7h-3zM617 659.3h3v43.3h-3zM626 734.2h3v35.1h-3zM636 703.1h3v52.3h-3zM655 701.8h3v44.2h-3zM669 725.5h3v3.3h-3zM693 665.0h3v4.9h-3zM712 617.5h3v17.2h-3zM716 643.7h3v22.9h-3zM721 665.9h3v16.8h-3zM750 540.6h3v40.9h-3zM754 580.7h3v18.0h-3zM759 599.5h3v9.8h-3zM773 606.9h3v18.0h-3zM783 612.6h3v7.4h-3zM802 569.3h3v13.0h-3zM806 581.5h3v18.0h-3zM811 602.0h3v10.6h-3zM821 581.8h3v25.8h-3zM835 546.8h3v2.2h-3zM839 547.3h3v9.8h-3zM849 550.6h3v11.5h-3zM863 534.2h3v35.2h-3zM868 569.4h3v6.6h-3zM887 508.1h3v8.2h-3zM896 489.3h3v5.7h-3zM906 500.7h3v3.3h-3zM911 504.8h3v15.5h-3zM915 519.5h3v31.1h-3zM925 499.9h3v18.0h-3zM939 468.8h3v11.5h-3zM944 478.6h3v5.8h-3zM953 483.5h3v6.6h-3zM963 466.4h3v22.0h-3zM982 478.6h3v9.8h-3zM991 475.4h3v10.6h-3zM996 483.5h3v4.9h-3zM1000 487.6h3v3.0h-3zM1005 490.1h3v4.1h-3zM1010 494.2h3v6.5h-3zM1019 473.7h3v80.2h-3zM1024 554.7h3v7.4h-3zM1062 448.3h3v4.9h-3zM1067 451.5h3v13.1h-3zM1076 459.0h3v10.6h-3zM1081 469.6h3v25.4h-3zM1090 476.2h3v5.7h-3zM1100 477.7h3v4.9h-3zM1109 476.1h3v9.8h-3zM1124 466.3h3v16.3h-3zM1138 463.0h3v9.8h-3zM1143 448.3h3v7.3h-3zM1147 455.6h3v10.7h-3zM1171 441.7h3v13.1h-3zM1185 437.6h3v30.3h-3zM1204 444.2h3v9.0h-3zM1214 443.3h3v18.0h-3zM1218 461.3h3v16.4h-3zM1223 480.2h3v14.7h-3zM1228 494.1h3v7.3h-3zM1251 336.3h3v27.0h-3zM1256 367.3h3v37.7h-3zM1266 380.4h3v16.4h-3zM1275 391.1h3v9.0h-3zM1285 399.7h3v1.2h-3zM1294 376.3h3v3.3h-3zM1313 357.5h3v48.3h-3zM1318 405.0h3v9.0h-3zM1327 386.2h3v3.2h-3zM1337 386.2h3v63.8h-3zM1360 379.6h3v7.4h-3zM1375 357.5h3v8.2h-3zM1398 308.0h3v27.0h-3zM1408 316.1h3v3.3h-3zM1417 277.7h3v6.5h-3zM1422 283.4h3v8.2h-3zM1427 294.9h3v26.1h-3zM1441 274.4h3v14.8h-3zM1465 240.9h3v11.4h-3zM1474 245.8h3v21.3h-3zM1488 253.2h3v1.6h-3zM1502 179.9h3v2.4h-3zM1507 183.2h3v12.2h-3zM1517 179.1h3v10.6h-3zM1521 191.3h3v3.3h-3zM1540 168.4h3v6.6h-3zM1545 174.2h3v13.0h-3zM1550 187.2h3v3.3h-3zM1569 122.6h3v14.7h-3zM1573 139.0h3v17.2h-3zM1578 157.0h3v18.0h-3zM1592 146.3h3v1.7h-3zM1602 119.4h3v31.0h-3zM1607 170.1h3v17.1h-3zM1611 189.7h3v2.5h-3zM1621 167.6h3v7.4h-3zM1645 109.5h3v40.1h-3zM1654 109.5h3v16.4h-3zM1659 129.2h3v66.2h-3zM1663 194.0h3v43.5h-3zM1668 242.3h3v14.4h-3z" fill="#1d38ab"/>
<path d="M0 570.5H1771" stroke="#111" stroke-width="1" stroke-dasharray="1 2" fill="none"/>
<path d="M234.5 0V899" stroke="#111" stroke-width="1" stroke-dasharray="1 2" fill="none"/>
</g>
<rect x="1771" y="0" width="1" height="927" fill="rgba(40,80,90,0.42)"/>
<rect x="0" y="899" width="1833" height="1" fill="rgba(40,80,90,0.42)"/>
<text x="1780.5" y="887.5" font-size="12" fill="#131722" textLength="41.3" lengthAdjust="spacingAndGlyphs">182.000</text>
<text x="1780.5" y="839.5" font-size="12" fill="#131722" textLength="41.3" lengthAdjust="spacingAndGlyphs">184.000</text>
<text x="1780.5" y="791.4" font-size="12" fill="#131722" textLength="41.3" lengthAdjust="spacingAndGlyphs">186.000</text>
<text x="1780.5" y="743.4" font-size="12" fill="#131722" textLength="41.3" lengthAdjust="spacingAndGlyphs">188.000</text>
<text x="1780.5" y="695.4" font-size="12" fill="#131722" textLength="41.3" lengthAdjust="spacingAndGlyphs">190.000</text>
<text x="1780.5" y="647.3" font-size="12" fill="#131722" textLength="41.3" lengthAdjust="spacingAndGlyphs">192.000</text>
<text x="1780.5" y="599.3" font-size="12" fill="#131722" textLength="41.3" lengthAdjust="spacingAndGlyphs">194.000</text>
<text x="1780.5" y="551.2" font-size="12" fill="#131722" textLength="41.3" lengthAdjust="spacingAndGlyphs">196.000</text>
<text x="1780.5" y="503.2" font-size="12" fill="#131722" textLength="41.3" lengthAdjust="spacingAndGlyphs">198.000</text>
<text x="1780.5" y="455.2" font-size="12" fill="#131722" textLength="41.3" lengthAdjust="spacingAndGlyphs">200.000</text>
<text x="1780.5" y="407.1" font-size="12" fill="#131722" textLength="41.3" lengthAdjust="spacingAndGlyphs">202.000</text>
<text x="1780.5" y="359.1" font-size="12" fill="#131722" textLength="41.3" lengthAdjust="spacingAndGlyphs">204.000</text>
<text x="1780.5" y="311.0" font-size="12" fill="#131722" textLength="41.3" lengthAdjust="spacingAndGlyphs">206.000</text>
<text x="1780.5" y="263.0" font-size="12" fill="#131722" textLength="41.3" lengthAdjust="spacingAndGlyphs">208.000</text>
<text x="1780.5" y="215.0" font-size="12" fill="#131722" textLength="41.3" lengthAdjust="spacingAndGlyphs">210.000</text>
<text x="1780.5" y="166.9" font-size="12" fill="#131722" textLength="41.3" lengthAdjust="spacingAndGlyphs">212.000</text>
<text x="1780.5" y="118.9" font-size="12" fill="#131722" textLength="41.3" lengthAdjust="spacingAndGlyphs">214.000</text>
<text x="1780.5" y="70.8" font-size="12" fill="#131722" textLength="41.3" lengthAdjust="spacingAndGlyphs">216.000</text>
<text x="1780.5" y="21.8" font-size="12" fill="#131722" textLength="41.3" lengthAdjust="spacingAndGlyphs">218.000</text>
<path d="M1772 84.2h55q1 0 1 1v14.6q0 1 -1 1h-55z" fill="#3d9645"/>
<text x="1780.5" y="96.8" font-size="12" font-weight="bold" fill="#fff" textLength="41.3" lengthAdjust="spacingAndGlyphs">214.919</text>
<path d="M1772 200.7h55q1 0 1 1v14.6q0 1 -1 1h-55z" fill="#3d9645"/>
<text x="1780.5" y="213.3" font-size="12" font-weight="bold" fill="#fff" textLength="41.3" lengthAdjust="spacingAndGlyphs">210.070</text>
<path d="M1772 227.2h55q1 0 1 1v14.6q0 1 -1 1h-55z" fill="#3d9645"/>
<text x="1780.5" y="239.8" font-size="12" font-weight="bold" fill="#fff" textLength="41.3" lengthAdjust="spacingAndGlyphs">208.966</text>
<path d="M1772 434.1h55q1 0 1 1v14.6q0 1 -1 1h-55z" fill="#f23645"/>
<text x="1780.5" y="446.7" font-size="12" font-weight="bold" fill="#fff" textLength="41.3" lengthAdjust="spacingAndGlyphs">200.352</text>
<path d="M1772 552.3h55q1 0 1 1v14.7q0 1 -1 1h-55z" fill="#ff8a00"/>
<text x="1780.5" y="564.9" font-size="12" font-weight="bold" fill="#fff" textLength="41.3" lengthAdjust="spacingAndGlyphs">195.468</text>
<path d="M1772 560.4h55q1 0 1 1v18.4q0 1 -1 1h-55z" fill="#131313"/>
<text x="1780.5" y="574.9" font-size="12" font-weight="bold" fill="#fff" textLength="41.3" lengthAdjust="spacingAndGlyphs">195.036</text>
<text x="93.8" y="917" font-size="12" fill="#131722" textLength="12.7" lengthAdjust="spacingAndGlyphs">11</text>
<text x="106" y="917" font-size="12" fill="#131722">月</text>
<text x="305.0" y="917" font-size="12" font-weight="bold" fill="#131722" text-anchor="middle">2025</text>
<text x="401.0" y="917" font-size="12" fill="#131722" textLength="6.4" lengthAdjust="spacingAndGlyphs">2</text>
<text x="406.8" y="917" font-size="12" fill="#131722">月</text>
<text x="495.0" y="917" font-size="12" fill="#131722" textLength="6.4" lengthAdjust="spacingAndGlyphs">3</text>
<text x="500.8" y="917" font-size="12" fill="#131722">月</text>
<text x="595.0" y="917" font-size="12" fill="#131722" textLength="6.4" lengthAdjust="spacingAndGlyphs">4</text>
<text x="600.8" y="917" font-size="12" fill="#131722">月</text>
<text x="699.0" y="917" font-size="12" fill="#131722" textLength="6.4" lengthAdjust="spacingAndGlyphs">5</text>
<text x="704.8" y="917" font-size="12" fill="#131722">月</text>
<text x="803.0" y="917" font-size="12" fill="#131722" textLength="6.4" lengthAdjust="spacingAndGlyphs">6</text>
<text x="808.8" y="917" font-size="12" fill="#131722">月</text>
<text x="903.0" y="917" font-size="12" fill="#131722" textLength="6.4" lengthAdjust="spacingAndGlyphs">7</text>
<text x="908.8" y="917" font-size="12" fill="#131722">月</text>
<text x="1011.0" y="917" font-size="12" fill="#131722" textLength="6.4" lengthAdjust="spacingAndGlyphs">8</text>
<text x="1016.8" y="917" font-size="12" fill="#131722">月</text>
<text x="1111.0" y="917" font-size="12" fill="#131722" textLength="6.4" lengthAdjust="spacingAndGlyphs">9</text>
<text x="1116.8" y="917" font-size="12" fill="#131722">月</text>
<text x="1211.8" y="917" font-size="12" fill="#131722" textLength="12.7" lengthAdjust="spacingAndGlyphs">10</text>
<text x="1224" y="917" font-size="12" fill="#131722">月</text>
<text x="1320.8" y="917" font-size="12" fill="#131722" textLength="12.7" lengthAdjust="spacingAndGlyphs">11</text>
<text x="1333" y="917" font-size="12" fill="#131722">月</text>
<text x="1415.8" y="917" font-size="12" fill="#131722" textLength="12.7" lengthAdjust="spacingAndGlyphs">12</text>
<text x="1428" y="917" font-size="12" fill="#131722">月</text>
<text x="1532.0" y="917" font-size="12" font-weight="bold" fill="#131722" text-anchor="middle">2026</text>
<text x="1622.0" y="917" font-size="12" fill="#131722" textLength="6.4" lengthAdjust="spacingAndGlyphs">2</text>
<text x="1627.8" y="917" font-size="12" fill="#131722">月</text>
<text x="1717.0" y="917" font-size="12" fill="#131722" textLength="6.4" lengthAdjust="spacingAndGlyphs">3</text>
<text x="1722.8" y="917" font-size="12" fill="#131722">月</text>
<text x="-10.7" y="917" font-size="12" fill="#131722" textLength="12.7" lengthAdjust="spacingAndGlyphs">10</text>
<text x="1.5" y="917" font-size="12" fill="#131722">月</text>
<rect x="184" y="899.5" width="101.5" height="23.3" rx="2.5" fill="#131313"/>
<text x="192.3" y="917" font-size="12" font-weight="bold" fill="#fff" textLength="62" lengthAdjust="spacingAndGlyphs">2024-12-10</text>
<text x="258" y="916.6" font-size="12" font-weight="bold" fill="#fff">(</text>
<text x="261.8" y="916.8" font-size="12" font-weight="bold" fill="#fff">火</text>
<text x="273.3" y="916.6" font-size="12" font-weight="bold" fill="#fff">)</text>
<g stroke="#131722" stroke-width="1.3" fill="none"><path d="M1795 913.4L1798.7 907.3H1806.1L1809.8 913.4L1806.1 919.5H1798.7Z" stroke-linejoin="round"/><circle cx="1802.4" cy="913.4" r="2.1"/></g>
<text x="9.5" y="23" font-size="15.6" fill="#131722">ポンド／円</text>
<circle cx="95.1" cy="15.7" r="1.25" fill="#131722"/>
<text x="101.0" y="23" font-size="15.2" fill="#131722">1</text>
<text x="110" y="23" font-size="15.2" fill="#131722">日</text>
<circle cx="131.2" cy="17.8" r="1.25" fill="#131722"/>
<text x="138.2" y="23" font-size="14.8" fill="#131722" textLength="48.8" lengthAdjust="spacingAndGlyphs">OANDA</text>
<path d="M199.5 11.3H211.4L208.3 17.3L211.4 23.2H199.5Z" fill="#ff4a4a"/>
<rect x="223.8" y="7.6" width="38.6" height="18" rx="9" fill="#ffffff" fill-opacity="0.10"/>
<path d="M241.2 7.6h12.2a9 9 0 0 1 0 18h-12.2z" fill="rgb(255,160,195)" fill-opacity="0.42"/>
<rect x="229.2" y="16.0" width="9.3" height="2.4" rx="1.2" fill="#9a9a9e"/>
<path d="M253.46 16.66Q252.91 16.66 252.38 16.51Q251.85 16.36 251.30 16.17Q250.33 15.83 249.68 15.83Q249.19 15.83 248.76 15.97Q248.33 16.11 247.81 16.47V14.91Q248.62 14.30 249.80 14.30Q250.19 14.30 250.64 14.39Q251.10 14.48 252.14 14.83Q253.02 15.15 253.60 15.15Q254.58 15.15 255.42 14.47V16.08Q254.96 16.41 254.52 16.53Q254.08 16.66 253.46 16.66ZM253.46 20.19Q252.91 20.19 252.38 20.03Q251.85 19.87 251.30 19.68Q250.36 19.35 249.68 19.35Q249.16 19.35 248.73 19.51Q248.29 19.67 247.81 20.00V18.44Q248.64 17.82 249.80 17.82Q250.41 17.82 250.99 17.99Q251.58 18.16 252.14 18.35Q252.88 18.58 253.14 18.63Q253.40 18.68 253.60 18.68Q254.58 18.68 255.42 18.00V19.61Q254.95 19.93 254.52 20.06Q254.09 20.19 253.46 20.19Z" fill="#e62864"/>
<text x="271.5" y="22.3" font-size="13" fill="#131722">始値</text>
<text x="298.8" y="22" font-size="13" fill="#e63757" textLength="44.3" lengthAdjust="spacingAndGlyphs">192.782</text>
<text x="350.3" y="22.3" font-size="13" fill="#131722">高値</text>
<text x="377.0" y="22" font-size="13" fill="#e63757" textLength="44.3" lengthAdjust="spacingAndGlyphs">194.117</text>
<text x="428.5" y="22.3" font-size="13" fill="#131722">安値</text>
<text x="456.0" y="22" font-size="13" fill="#e63757" textLength="44.3" lengthAdjust="spacingAndGlyphs">192.458</text>
<text x="507" y="22.3" font-size="13" fill="#131722">終値</text>
<text x="535.0" y="22" font-size="13" fill="#e63757" textLength="44.3" lengthAdjust="spacingAndGlyphs">194.092</text>
<g stroke="#fff" stroke-width="5" stroke-linejoin="round" fill="#fff"><g transform="translate(11.9,866.5) scale(0.8333)"><path d="M14 22H7V11H0V4h14v18zM28 22h-8l7.5-18h8L28 22z"/><circle cx="20" cy="8" r="4"/></g><text x="49" y="884.8" font-size="20" font-weight="bold" textLength="120" lengthAdjust="spacingAndGlyphs">TradingView</text></g>
<g fill="#1a1a1a" stroke="#1a1a1a" stroke-width="0.5"><g transform="translate(11.9,866.5) scale(0.8333)"><path d="M14 22H7V11H0V4h14v18zM28 22h-8l7.5-18h8L28 22z"/><circle cx="20" cy="8" r="4"/></g><text x="49" y="884.8" font-size="20" font-weight="bold" textLength="120" lengthAdjust="spacingAndGlyphs">TradingView</text></g>
<circle cx="1698.0" cy="885.9" r="9.8" fill="#fdf3f5" stroke="#ee3d55" stroke-width="1.9"/><circle cx="1698.0" cy="885.9" r="3.55" fill="#f0464f"/>
<circle cx="1693.2" cy="885.9" r="9.8" fill="#fdf3f5" stroke="#ee3d55" stroke-width="1.9"/><circle cx="1693.2" cy="885.9" r="3.55" fill="#f0464f"/>
<circle cx="1688.2" cy="885.9" r="9.8" fill="#fdf3f5" stroke="#ee3d55" stroke-width="1.9"/><circle cx="1688.2" cy="885.9" r="3.55" fill="#f0464f"/>
<circle cx="1683.0" cy="885.9" r="9.8" fill="#fdf3f5" stroke="#ee3d55" stroke-width="1.9"/><circle cx="1683.0" cy="885.9" r="3.55" fill="#f0464f"/>
<circle cx="1673.9" cy="885.9" r="9.8" fill="#fdf3f5" stroke="#ee3d55" stroke-width="1.9"/><circle cx="1673.9" cy="885.9" r="3.55" fill="#f0464f"/>
<g><circle cx="1682.9" cy="860.7" r="10.0" fill="#f3eef3" stroke="#ee3d55" stroke-width="1.9"/>
<g transform="translate(1682.9,860.7)">
<path d="M-3.2 -7.6L-1.8 -3 -6 -5.8zM3.2 -7.6L1.8 -3 6 -5.8zM-3.2 7.6L-1.8 3 -6 5.8zM3.2 7.6L1.8 3 6 5.8zM-7.6 -2.6L-3.6 -2.2 -6.6 -4.4zM7.6 -2.6L3.6 -2.2 6.6 -4.4zM-7.6 2.6L-3.6 2.2 -6.6 4.4zM7.6 2.6L3.6 2.2 6.6 4.4z" fill="#1d4f91"/>
<path d="M-8 0H8M0 -8V8" stroke="#ee4a5a" stroke-width="1.7"/><path d="M-5.6 -5.6L5.6 5.6M-5.6 5.6L5.6 -5.6" stroke="#ee4a5a" stroke-width="0.8"/>
</g></g>
</g>
</svg>
</body></html>
